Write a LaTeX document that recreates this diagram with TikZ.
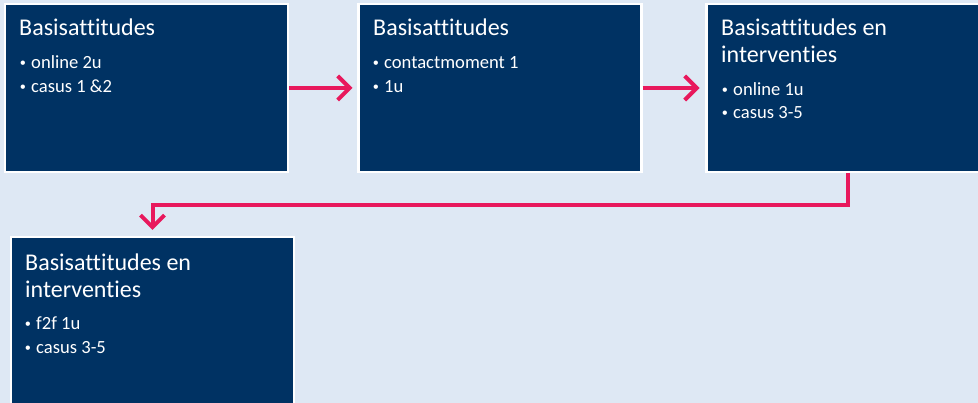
\documentclass[tikz,border=0pt]{standalone}
\usepackage{fontspec}
\setmainfont{Carlito}[Ligatures=NoCommon]
\newfontfamily\bulletfont{Liberation Sans}
\usetikzlibrary{arrows.meta}
\definecolor{pagebg}{HTML}{DEE8F4}
\definecolor{navy}{HTML}{003263}
\definecolor{flow}{HTML}{E8185C}
\tikzset{
  box/.style={draw=white, line width=2.5pt, fill=navy, inner sep=0pt, outer sep=0pt,
              minimum width=283pt, minimum height=168pt},
  title/.style={anchor=base west, inner sep=0pt, text=white, font=\fontsize{24}{28}\selectfont},
  item/.style={anchor=base west, inner sep=0pt, text=white, font=\fontsize{18.6}{22}\selectfont},
  arr/.style={draw=flow, line width=4pt, line join=miter,
              -{Straight Barb[length=12pt, width=24pt, line width=4pt]}}
}
\newcommand{\bul}[1]{\makebox[11pt][l]{\bulletfont\fontsize{16}{20}\selectfont •}#1}
\begin{document}
\begin{tikzpicture}[x=1pt, y=-1pt]
  \useasboundingbox (0,0) rectangle (978,403);
  \clip (0,0) rectangle (978,403);
  \fill[pagebg] (0,0) rectangle (978,403);

  % the four blocks
  \node[box] (b1) at (146.5,88) {};
  \node[box] (b2) at (500,88) {};
  \node[box] (b3) at (848,88) {};
  \node[box] (b4) at (152.5,321) {};

  % block texts
  \node[title] (t1) at (19,36) {Basisattitudes};
  \node[item] (t1a) at (20,69) {\bul{online 2u}};
  \node[item] (t1b) at (20,93) {\bul{casus 1 \&2}};

  \node[title] (t2) at (373,36) {Basisattitudes};
  \node[item] (t2a) at (373,69) {\bul{contactmoment 1}};
  \node[item] (t2b) at (373,93) {\bul{1u}};

  \node[title] (t3) at (721,36) {Basisattitudes en};
  \node[title] (t3l) at (721,63) {interventies};
  \node[item] (t3a) at (722,96) {\bul{online 1u}};
  \node[item] (t3b) at (722,119) {\bul{casus 3-5}};

  \node[title] (t4) at (25,271) {Basisattitudes en};
  \node[title] (t4l) at (25,298) {interventies};
  \node[item] (t4a) at (25,330) {\bul{f2f 1u}};
  \node[item] (t4b) at (25,354) {\bul{casus 3-5}};

  % connectors
  \draw[arr] ([xshift=1pt]b1.east) -- ([xshift=-6pt]b2.west);
  \draw[arr] ([xshift=1pt]b2.east) -- ([xshift=-7pt]b3.west);
  \draw[arr] ([yshift=-1pt]b3.south) -- ++(0,32) -| ([yshift=7pt]b4.north);
\end{tikzpicture}
\end{document}
